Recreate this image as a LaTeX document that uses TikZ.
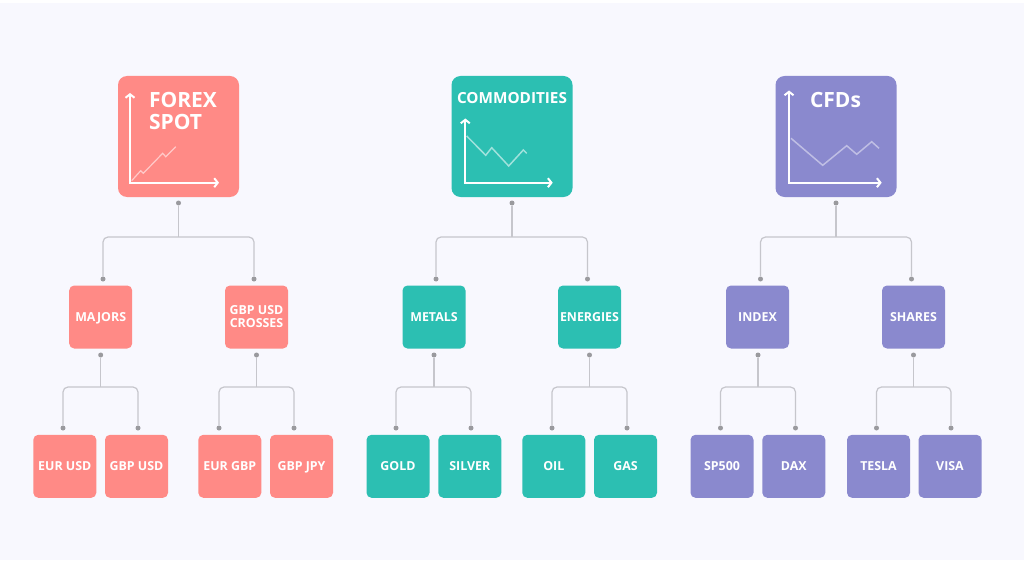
\documentclass[tikz,border=0pt]{standalone}
\usepackage{fontspec}
\setmainfont{Open Sans}
\usetikzlibrary{arrows.meta}

\definecolor{paper}{HTML}{F8F8FE}
\definecolor{salmon}{HTML}{FF8A86}
\definecolor{teal}{HTML}{2CBFB2}
\definecolor{violet}{HTML}{8A89CE}
\definecolor{wire}{HTML}{C6C6CC}
\definecolor{pinc}{HTML}{9A9A9E}

\newcommand{\branch}[4]{%
    \draw[link] (#1) -- (#2);
    \draw[link,rounded corners=5pt] (#3) |- (#2) -| (#4);
}

\begin{document}
\begin{tikzpicture}[
    x=1pt,y=-1pt,
    box/.style={rectangle,rounded corners=5pt,minimum size=63pt,inner sep=0pt,align=center,
        text depth=0pt,text=white,font=\fontsize{12.4}{13}\selectfont\bfseries},
    head/.style={rectangle,rounded corners=9pt,minimum size=121pt,inner sep=0pt},
    title/.style={text=white,inner sep=0pt,align=left,font=\fontsize{21}{22}\selectfont\bfseries},
    link/.style={draw=wire,line width=1.2pt},
    pin/.style={circle,fill=pinc,minimum size=5pt,inner sep=0pt},
    axes/.style={draw=white,line width=2pt,{Straight Barb[length=3.5pt,width=9pt]}-{Straight Barb[length=3.5pt,width=9pt]}},
]
    \useasboundingbox (0,0) rectangle (1024,564);
    \fill[paper] (0,3) rectangle (1024,560);

    \node[head,fill=salmon] (forex) at (178.5,136.5) {};
    \node[title] (forext) at (183,110.5) {FOREX\\SPOT};
    \node[box,fill=salmon] (majors) at (100.7,317) {MAJORS};
    \node[box,fill=salmon] (crosses) at (256.5,317) {GBP USD\\CROSSES};
    \node[box,fill=salmon] (eurusd) at (64.8,466.3) {EUR USD};
    \node[box,fill=salmon] (gbpusd) at (136.5,466.3) {GBP USD};
    \node[box,fill=salmon] (eurgbp) at (229.8,466.3) {EUR GBP};
    \node[box,fill=salmon] (gbpjpy) at (301.5,466.3) {GBP JPY};

    \node[head,fill=teal] (commod) at (512,136.5) {};
    \node[title,font=\fontsize{15.3}{18}\selectfont\bfseries] (commodt) at (512,98) {COMMODITIES};
    \node[box,fill=teal] (metals) at (434,317) {METALS};
    \node[box,fill=teal] (energies) at (589.5,317) {ENERGIES};
    \node[box,fill=teal] (gold) at (398,466.3) {GOLD};
    \node[box,fill=teal] (silver) at (469.8,466.3) {SILVER};
    \node[box,fill=teal] (oil) at (553.8,466.3) {OIL};
    \node[box,fill=teal] (gas) at (625.5,466.3) {GAS};

    \node[head,fill=violet] (cfds) at (836,136.5) {};
    \node[title] (cfdst) at (835.5,100) {CFDs};
    \node[box,fill=violet] (index) at (757.5,317) {INDEX};
    \node[box,fill=violet] (shares) at (913.5,317) {SHARES};
    \node[box,fill=violet] (sp) at (722,466.3) {SP500};
    \node[box,fill=violet] (dax) at (793.8,466.3) {DAX};
    \node[box,fill=violet] (tesla) at (878.5,466.3) {TESLA};
    \node[box,fill=violet] (visa) at (950,466.3) {VISA};

    \foreach \n/\x/\y in {
        fa/178.5/203, fb/103/279, fc/254/279,
        fd/100.7/355, fe/63/428, ff/138/428,
        fg/256.5/355, fh/219/428, fi/294/428,
        ca/512/203, cb/436/279, cc/587.5/279,
        cd/434/355, ce/396/428, cf/471/428,
        cg/589.5/355, ch/552/428, ci/627/428,
        da/836/203, db/760.5/279, dc/911.5/279,
        dd/758/355, de/720.5/428, df/795.5/428,
        dg/913.5/355, dh/876.5/428, di/951/428}
        \node[pin] (\n) at (\x,\y) {};

    \foreach \n/\x/\y in {
        jfa/178.5/237, jfd/100.7/387, jfg/256.5/387,
        jca/512/237, jcd/434/387, jcg/589.5/387,
        jda/836/237, jdd/758/387, jdg/913.5/387}
        \coordinate (\n) at (\x,\y);

    \branch{fa}{jfa}{fb}{fc}
    \branch{fd}{jfd}{fe}{ff}
    \branch{fg}{jfg}{fh}{fi}
    \branch{ca}{jca}{cb}{cc}
    \branch{cd}{jcd}{ce}{cf}
    \branch{cg}{jcg}{ch}{ci}
    \branch{da}{jda}{db}{dc}
    \branch{dd}{jdd}{de}{df}
    \branch{dg}{jdg}{dh}{di}

    \draw[axes] (130,93) -- (130,182.7) -- (219,182.7);
    \draw[draw=salmon!45!white,line width=1.2pt] (131.7,180.7) -- (140.7,170.7) -- (143.3,173.3)
        -- (162.7,153.3) -- (165.7,156.7) -- (175.7,146.7);

    \draw[axes] (465.3,118.5) -- (465.3,182.7) -- (552.7,182.7);
    \draw[draw=teal!45!white,line width=1.5pt] (466.7,136) -- (485.7,155.3) -- (491.7,147.7)
        -- (508.7,166) -- (523.3,150) -- (526.7,153.3);

    \draw[axes] (789,90.5) -- (789,182.7) -- (881.7,182.7);
    \draw[draw=violet!55!white,line width=1.5pt] (791,138.3) -- (822.7,165.3) -- (846.7,145.7)
        -- (856.7,154.3) -- (871.7,141.7) -- (879,148.3);
\end{tikzpicture}
\end{document}
